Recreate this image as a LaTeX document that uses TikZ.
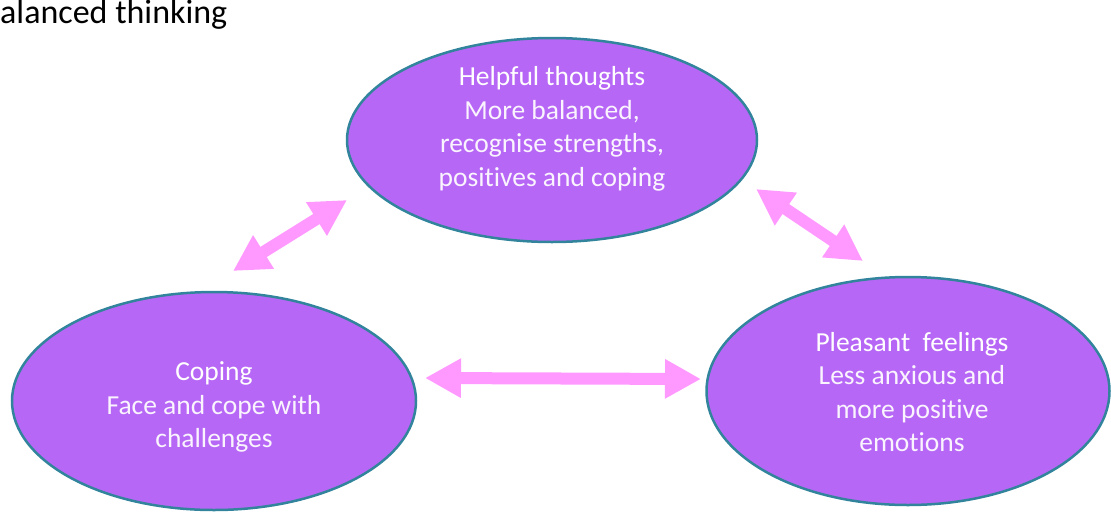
\documentclass[tikz,border=0pt]{standalone}
\usepackage{fontspec}
\setmainfont{Carlito}[Ligatures=NoCommon]
\usetikzlibrary{shapes.geometric,arrows.meta}
\definecolor{blobfill}{HTML}{B767F5}
\definecolor{blobedge}{HTML}{31849B}
\definecolor{linkpink}{HTML}{FF99FF}
\colorlet{headtxt}{white}
\colorlet{bodytxt}{white!93!blobfill}
\tikzset{blob/.style={ellipse,draw=blobedge,fill=blobfill,line width=2.5pt,
    inner sep=0pt}}
\tikzset{blobtext/.style={align=center,inner sep=0pt,text=bodytxt,
    font=\fontsize{27.5}{33.5}\selectfont}}
\tikzset{twoway/.style={draw=linkpink,line width=12pt,
    {Triangle[length=36pt,width=37pt]}-{Triangle[length=36pt,width=37pt]}}}

\begin{document}
\begin{tikzpicture}[x=1pt,y=-1pt]
    \useasboundingbox (0,0) rectangle (1111,512);
    \node[anchor=base west,inner sep=0pt,font=\fontsize{34}{36}\selectfont]
        (title) at (0,23.5) {alanced thinking};
    % the three ovals
    \node[blob,minimum width=410pt,minimum height=204pt] (help) at (552,140) {};
    \node[blob,minimum width=404pt,minimum height=218pt] (cope) at (214,401) {};
    \node[blob,minimum width=403pt,minimum height=228pt] (feel) at (908,391) {};
    \node[blobtext] (help-txt) at (552,129)
        {\textcolor{headtxt}{Helpful thoughts}\\More balanced,\\recognise strengths,\\positives and coping};
    \node[blobtext] (cope-txt) at (214,407)
        {\textcolor{headtxt}{Coping}\\Face and cope with\\challenges};
    \node[blobtext] (feel-txt) at (912,392)
        {\textcolor{headtxt}{Pleasant\ \ feelings}\\Less anxious and\\more positive\\emotions};
    % arrow ends
    \coordinate (cope-a) at (233,271);
    \coordinate (help-a) at (347,200);
    \coordinate (help-b) at (756,189);
    \coordinate (feel-b) at (863,261);
    \coordinate (cope-c) at (425,378);
    \coordinate (feel-c) at (701,379);
    \draw[twoway] (cope-a) -- (help-a);
    \draw[twoway] (help-b) -- (feel-b);
    \draw[twoway] (cope-c) -- (feel-c);
\end{tikzpicture}
\end{document}
